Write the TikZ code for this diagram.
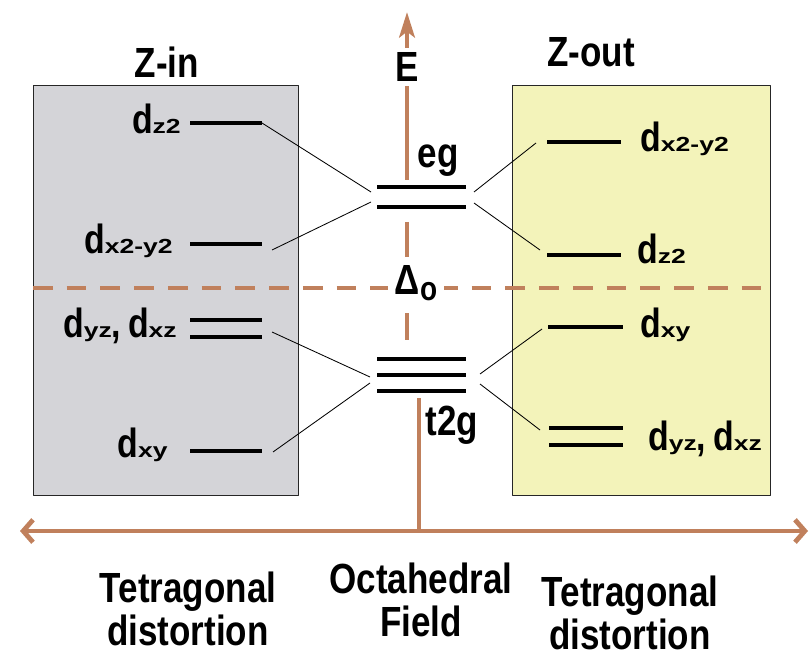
\documentclass[tikz,border=0pt]{standalone}
\usepackage{fontspec}
\setmainfont{Liberation Sans}[FakeStretch=0.83]
\newfontfamily\subfont{Liberation Sans}[FakeStretch=1.3]
\usetikzlibrary{arrows.meta}
\definecolor{axisbrown}{HTML}{C0805C}
\definecolor{zinface}{HTML}{D4D4D8}
\definecolor{zoutface}{HTML}{F3F3BA}
\newcommand{\orb}[1]{d{\subfont\fontsize{14.5}{14.5}\selectfont #1}}

\begin{document}
\begin{tikzpicture}[
  x=0.025cm,
  y=-0.025cm,
  line join=round,
  panel/.style={draw=black!85,line width=0.7pt},
  level/.style={draw=black,line width=2.6pt},
  link/.style={draw=black,line width=0.6pt},
  axis/.style={draw=axisbrown,line width=3.4pt},
  splitline/.style={draw=axisbrown,line width=3.4pt,dash pattern=on 14pt off 10pt},
  title/.style={font=\fontsize{30}{30}\selectfont\bfseries,inner sep=0pt},
  orbital/.style={font=\fontsize{29}{30}\selectfont\bfseries,inner sep=0pt}
]
  \useasboundingbox (0,0) rectangle (810,656);

  % Panels for the two distortions.
  \path[panel,fill=zinface] (33,85) rectangle (298,495);
  \path[panel,fill=zoutface] (512,85) rectangle (770,495);

  % Energy axis and field axis.
  \draw[splitline] (33,288) -- (762,288);
  \draw[axis,-{Stealth[length=18pt,width=11pt,inset=4pt]}] (407,180) -- (407,12);
  \draw[axis,dash pattern=on 25pt off 40pt] (407,222) -- (407,340);
  \draw[axis] (419,398) -- (419,531);
  \draw[axis,{Straight Barb[length=7pt,width=16pt]}-{Straight Barb[length=7pt,width=16pt]}] (20,531) -- (808,531);

  \node[title,fill=white,inner sep=3pt] (elab) at (407,67) {E};
  \node[font=\fontsize{30}{30}\selectfont\bfseries,fill=white,inner sep=5pt] (delta) at (416,283) {Δ\raisebox{-4pt}{\fontsize{24}{24}\selectfont o}};

  \node[title] (zin) at (167,62) {Z-in};
  \node[title] (zout) at (591,52) {Z-out};

  % Z-in levels.
  \draw[level] (190,123) -- (262,123) coordinate (inA);
  \draw[level] (190,244) -- (262,244);
  \draw[level] (190,320) -- (262,320);
  \draw[level] (190,337) -- (262,337);
  \draw[level] (190,451) -- (262,451);
  \coordinate (inB) at (272,250);
  \coordinate (inC) at (272,332);
  \coordinate (inD) at (273,452);
  \node[orbital,anchor=base east] (inz) at (181,134) {\orb{z2}};
  \node[orbital,anchor=base east] (inx) at (173,253) {\orb{x2-y2}};
  \node[orbital,anchor=base east] (inyz) at (177,337) {\orb{yz},\,\orb{xz}};
  \node[orbital,anchor=base east] (inxy) at (168,457) {\orb{xy}};

  % Octahedral levels.
  \draw[level] (377,187) -- (466,187);
  \draw[level] (377,207) -- (466,207);
  \draw[level] (377,359) -- (466,359);
  \draw[level] (377,375) -- (466,375);
  \draw[level] (377,391) -- (466,391);
  \coordinate (egL1) at (371,192);
  \coordinate (egL2) at (371,202);
  \coordinate (egR1) at (474,192);
  \coordinate (egR2) at (474,203);
  \coordinate (tL1) at (370,377);
  \coordinate (tL2) at (370,383);
  \coordinate (tR1) at (480,374);
  \coordinate (tR2) at (480,384);
  \node[title,anchor=base] (eg) at (438,168) {eg};
  \node[title,anchor=base] (t2g) at (452,435) {t2g};

  % Z-out levels.
  \draw[level] (547,142) -- (621,142);
  \draw[level] (547,255) -- (621,255);
  \draw[level] (548,327) -- (623,327);
  \draw[level] (549,428) -- (623,428);
  \draw[level] (549,445) -- (623,445);
  \coordinate (outA) at (536,143);
  \coordinate (outB) at (540,250);
  \coordinate (outC) at (542,329);
  \coordinate (outD) at (540,430);
  \node[orbital,anchor=base west] (outx) at (640,152) {\orb{x2-y2}};
  \node[orbital,anchor=base west] (outz) at (637,264) {\orb{z2}};
  \node[orbital,anchor=base west] (outxy) at (640,337) {\orb{xy}};
  \node[orbital,anchor=base west] (outyz) at (648,450) {\orb{yz},\,\orb{xz}};

  % Correlation lines.
  \draw[link] (inA) -- (egL1);
  \draw[link] (inB) -- (egL2);
  \draw[link] (inC) -- (tL1);
  \draw[link] (inD) -- (tL2);
  \draw[link] (outA) -- (egR1);
  \draw[link] (outB) -- (egR2);
  \draw[link] (outC) -- (tR1);
  \draw[link] (outD) -- (tR2);

  % Field labels.
  \node[title,align=center,anchor=north] (tetin) at (188,572) {Tetragonal\\distortion};
  \node[title,align=center,anchor=north] (octa) at (421,563) {Octahedral\\Field};
  \node[title,align=center,anchor=north] (tetout) at (630,576) {Tetragonal\\distortion};
\end{tikzpicture}
\end{document}
